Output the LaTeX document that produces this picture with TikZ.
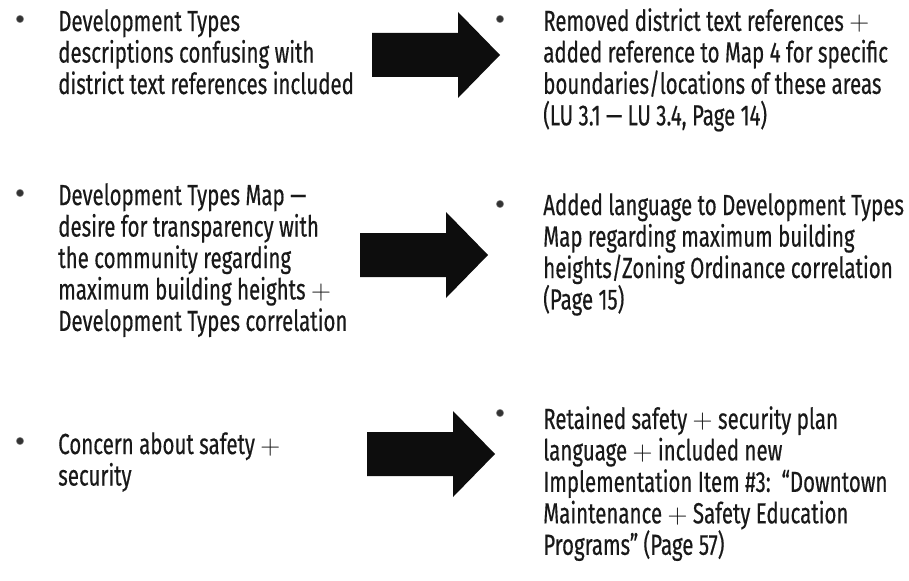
\documentclass[tikz,border=0pt]{standalone}
\usepackage{fontspec}
\setmainfont{Fira Sans}[FakeStretch=0.705,FakeBold=0.4]
\usepackage{tikz}

\tikzset{
  txt/.style={anchor=north west, inner sep=0pt, align=left,
    font=\fontsize{21.8}{23.6}\selectfont, text=black!90},
  dot/.style={circle, fill=black!80, draw=black!45, line width=0.4pt,
    minimum size=5.5pt, inner sep=0pt},
  bigarrow/.style={fill=black!95}
}

\begin{document}
\begin{tikzpicture}[x=0.75pt,y=-0.75pt]
\useasboundingbox (0,0) rectangle (909,581);

% row 1
\node[dot] (b1l) at (20,19) {};
\node[txt] (t1l) at (58,9) {Development Types\\
  descriptions confusing with\\
  district text references included};
\node[dot] (b1r) at (500,19) {};
\node[txt] (t1r) at (543,8) {Removed district text references $+$\\
  added reference to Map 4 for specific\\
  boundaries/locations of these areas\\
  (LU 3.1 --- LU 3.4, Page 14)};

% row 2
\node[dot] (b2l) at (20,193) {};
\node[txt] (t2l) at (58,183) {Development Types Map ---\\
  desire for transparency with\\
  the community regarding\\
  maximum building heights $+$\\
  Development Types correlation};
\node[dot] (b2r) at (500,204) {};
\node[txt] (t2r) at (543,193) {Added language to Development Types\\
  Map regarding maximum building\\
  heights/Zoning Ordinance correlation\\
  (Page 15)};

% row 3
\node[dot] (b3l) at (20,441) {};
\node[txt] (t3l) at (58,432) {Concern about safety $+$\\
  security};
\node[dot] (b3r) at (500,413) {};
\node[txt] (t3r) at (543,406) {Retained safety $+$ security plan\\
  language $+$ included new\\
  Implementation Item \#3:\ \ ``Downtown\\
  Maintenance $+$ Safety Education\\
  Programs'' (Page 57)};

% block arrows
\foreach \x/\y in {372/55, 360/255, 367/454}
  \fill[bigarrow] (\x,\y-22) -- ++(86,0) -- ++(0,-21) -- (\x+128,\y)
    -- (\x+86,\y+43) -- ++(0,-21) -- (\x,\y+22) -- cycle;
\end{tikzpicture}
\end{document}
